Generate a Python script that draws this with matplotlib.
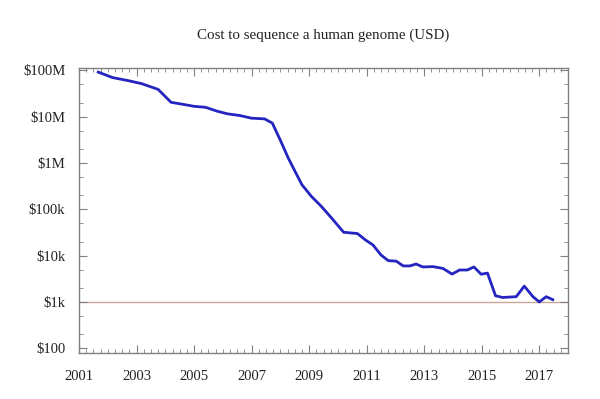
import matplotlib
matplotlib.use('Agg')
import matplotlib.pyplot as plt
from matplotlib.ticker import FixedLocator, MultipleLocator, NullFormatter
import numpy as np

# decimal year and cost per genome (USD)
years = [2001.67, 2002.17, 2002.67, 2003.17, 2003.75, 2004.2, 2004.6, 2005.0,
         2005.4, 2005.8, 2006.15, 2006.6, 2007.0, 2007.45, 2007.72, 2008.0,
         2008.27, 2008.5, 2008.75, 2009.08, 2009.43, 2009.77, 2010.2, 2010.68,
         2010.95, 2011.22, 2011.5, 2011.75, 2012.03, 2012.27, 2012.5, 2012.72,
         2012.95, 2013.3, 2013.65, 2013.97, 2014.23, 2014.5, 2014.73, 2014.98,
         2015.2, 2015.48, 2015.73, 2016.2, 2016.48, 2016.78, 2017.0, 2017.24,
         2017.47]
cost = [92e6, 70e6, 61e6, 52e6, 39e6, 20.5e6, 18.6e6, 16.8e6,
        16.0e6, 13.2e6, 11.6e6, 10.6e6, 9.3e6, 9.0e6, 7.3e6, 3.1e6,
        1.3e6, 680e3, 340e3, 190e3, 115e3, 66e3, 32e3, 30e3,
        22e3, 17e3, 10.3e3, 7.8e3, 7.6e3, 6.0e3, 6.0e3, 6.6e3,
        5.7e3, 5.8e3, 5.3e3, 4.0e3, 4.9e3, 4.9e3, 5.7e3, 3.97e3,
        4.2e3, 1.36e3, 1.25e3, 1.3e3, 2.2e3, 1.3e3, 1.0e3, 1.3e3,
        1.12e3]

ytick_vals = [1e2, 1e3, 1e4, 1e5, 1e6, 1e7, 1e8]
ytick_labels = ['$100', '$1k', '$10k', '$100k', '$1M', '$10M', '$100M']
xtick_vals = [2001, 2003, 2005, 2007, 2009, 2011, 2013, 2015, 2017]
reference_cost = 1000

plt.rcParams['font.family'] = ['Liberation Serif', 'DejaVu Serif']

fig = plt.figure(figsize=(6, 3.99), dpi=100)
ax = fig.add_axes([0.1317, 0.1153, 0.815, 0.7143])

ax.axhline(reference_cost, color='#c9a595', linewidth=1.0, zorder=1)
ax.plot(years, cost, color='#2424c0', linewidth=2.0, zorder=2)

ax.set_yscale('log')
ax.set_xlim(2001, 2018)
ax.set_ylim(79, 1.13e8)

ax.yaxis.set_major_locator(FixedLocator(ytick_vals))
ax.set_yticklabels(ytick_labels)
minor_y = [m * 10 ** e for e in range(1, 9) for m in (2, 5)]
ax.yaxis.set_minor_locator(FixedLocator(minor_y))
ax.yaxis.set_minor_formatter(NullFormatter())

ax.xaxis.set_major_locator(FixedLocator(xtick_vals))
ax.set_xticklabels([str(y) for y in xtick_vals])
ax.xaxis.set_minor_locator(MultipleLocator(0.25))

for side in ax.spines.values():
    side.set_color('#808080')
    side.set_linewidth(1.0)

ax.tick_params(which='both', direction='in', top=True, right=True,
               color='#808080', labelsize=10.5, labelcolor='#222222')
ax.tick_params(axis='x', which='major', length=6, pad=12)
ax.tick_params(axis='x', which='minor', length=3)
ax.tick_params(axis='y', which='major', length=6, pad=10)
ax.tick_params(axis='y', which='minor', length=3)

ax.set_title('Cost to sequence a human genome (USD)', fontsize=10.8,
             color='#222222', pad=21)

fig.savefig('out.png', dpi=100)
